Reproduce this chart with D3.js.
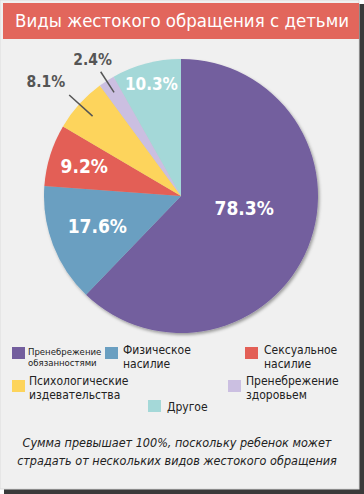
<!DOCTYPE html>
<html><head><meta charset="utf-8">
<script src="https://cdn.jsdelivr.net/npm/d3@7"></script>
<style>html,body{margin:0;padding:0;background:#fff;}svg{display:block;}</style>
</head><body>
<script>
const title = "Виды жестокого обращения с детьми";
const categories = ["Пренебрежение обязанностями","Физическое насилие","Сексуальное насилие","Психологические издевательства","Пренебрежение здоровьем","Другое"];
const values = [78.3, 17.6, 9.2, 8.1, 2.4, 10.3];
const valueLabels = ["78.3%","17.6%","9.2%","8.1%","2.4%","10.3%"];
const colors = ["#735e9e","#6a9fc1","#e35f56","#fdd45b","#cbbfe1","#a4d8d8"];
const legendLines = [["Пренебрежение","обязанностями"],["Физическое","насилие"],["Сексуальное","насилие"],["Психологические","издевательства"],["Пренебрежение","здоровьем"],["Другое"]];
const note = ["Сумма превышает 100%, поскольку ребенок может","страдать от нескольких видов жестокого обращения"];

const W = 364, H = 494;
const FONT = "'DejaVu Sans Condensed', 'DejaVu Sans', sans-serif";
const svg = d3.select("body").append("svg").attr("width", W).attr("height", H);
const defs = svg.append("defs");
const f = defs.append("filter").attr("id","ps").attr("x","-10%").attr("y","-10%").attr("width","120%").attr("height","120%");
f.append("feDropShadow").attr("dx",1.5).attr("dy",2).attr("stdDeviation",1.5).attr("flood-color","#000").attr("flood-opacity",0.35);

// frame + shadow
svg.append("rect").attr("x",0).attr("y",0).attr("width",W).attr("height",H).attr("fill","#ffffff");
svg.append("rect").attr("x",4).attr("y",4).attr("width",W-4).attr("height",H-4).attr("fill","#3a3a3a");
svg.append("rect").attr("x",0).attr("y",0).attr("width",W-5).attr("height",H-5).attr("fill","#f0f0f0").attr("stroke","#dcdcdc").attr("stroke-width",1);

// title bar
svg.append("rect").attr("x",3).attr("y",3).attr("width",356).attr("height",36).attr("fill","#e2665c");
svg.append("text").attr("x",182).attr("y",27).attr("text-anchor","middle")
  .attr("font-family",FONT).attr("font-size",18.5).attr("fill","#fff").text(title);

// pie
const cx = 181, cy = 196, R = 137;
const pie = d3.pie().sort(null).value(d => d)(values);
const arc = d3.arc().innerRadius(0).outerRadius(R);
const g = svg.append("g").attr("transform",`translate(${cx},${cy})`);
g.append("g").attr("filter","url(#ps)").selectAll("path").data(pie).join("path")
  .attr("d", arc).attr("fill",(d,i)=>colors[i]);

// labels: radius factor and angle offset (deg) per slice
const labelCfg = [
  {r:0.47, da:-11, size:19, color:"#fff"},
  {r:0.65, da:1, size:19, color:"#fff"},
  {r:0.74, da:0, size:19, color:"#fff"},
  {r:1.26, da:0, size:15.5, color:"#555", line:[0.87,1.10], dx:-4, dy:-8, anchor:"end"},
  {r:1.18, da:0, size:15.5, color:"#555", line:[0.90,1.08], dx:-8, dy:-7, anchor:"middle"},
  {r:0.85, da:0, size:17, color:"#fff"}
];
pie.forEach((d,i) => {
  const c = labelCfg[i];
  const a = (d.startAngle + d.endAngle)/2 + c.da*Math.PI/180;
  if (c.line) {
    const p1 = [Math.sin(a)*R*c.line[0], -Math.cos(a)*R*c.line[0]];
    const p2 = [Math.sin(a)*R*c.line[1], -Math.cos(a)*R*c.line[1]];
    g.append("line").attr("x1",p1[0]).attr("y1",p1[1]).attr("x2",p2[0]).attr("y2",p2[1])
      .attr("stroke","#555").attr("stroke-width",1.5);
    g.append("text").attr("x",p2[0]+c.dx).attr("y",p2[1]+c.dy).attr("text-anchor",c.anchor)
      .attr("font-family",FONT).attr("font-weight","bold").attr("font-size",c.size)
      .attr("fill",c.color).text(valueLabels[i]);
  } else {
    const x = Math.sin(a)*R*c.r, y = -Math.cos(a)*R*c.r;
    g.append("text").attr("x",x).attr("y",y).attr("dy","0.36em").attr("text-anchor","middle")
      .attr("font-family",FONT).attr("font-weight","bold").attr("font-size",c.size)
      .attr("fill",c.color).text(valueLabels[i]);
  }
});

// legend
const legendPos = [
  {x:12, y:347, tx:28, ty:355, size:9.5, lh:11},
  {x:105, y:347, tx:123, ty:354, size:12, lh:14},
  {x:245, y:347, tx:264, ty:354, size:12, lh:14},
  {x:12, y:380, tx:29, ty:385, size:12, lh:14},
  {x:228, y:380, tx:246, ty:385, size:12, lh:14},
  {x:148, y:400, tx:167, ty:411, size:12, lh:14}
];
categories.forEach((c,i) => {
  const p = legendPos[i];
  svg.append("rect").attr("x",p.x).attr("y",p.y).attr("width",13).attr("height",12).attr("fill",colors[i]);
  const t = svg.append("text").attr("font-family",FONT).attr("font-size",p.size).attr("fill","#222");
  legendLines[i].forEach((l,j) => t.append("tspan").attr("x",p.tx).attr("y", p.ty + j*p.lh).text(l));
});

// note
note.forEach((l,j) => svg.append("text").attr("x",177).attr("y",447 + j*18).attr("text-anchor","middle")
  .attr("font-family",FONT).attr("font-style","italic").attr("font-size",12.5).attr("fill","#222").text(l));
</script>
</body></html>
